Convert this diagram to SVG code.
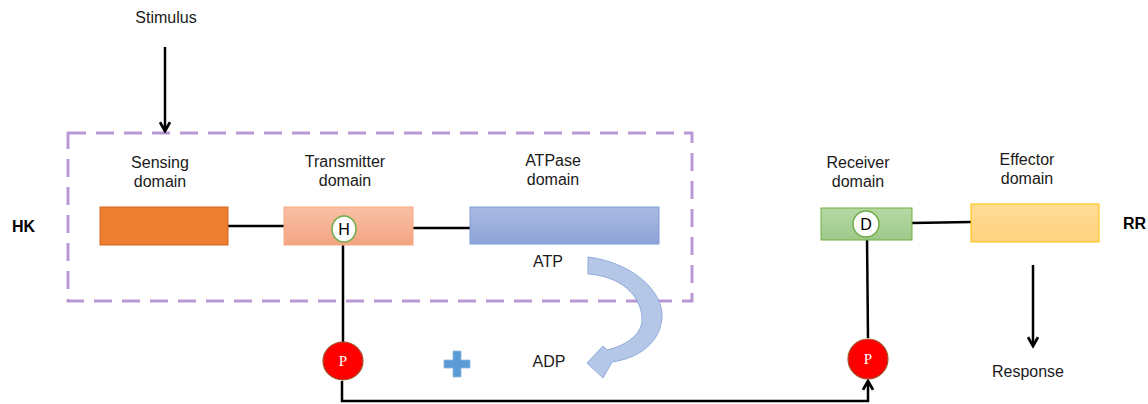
<svg xmlns="http://www.w3.org/2000/svg" width="1148" height="404" viewBox="0 0 1148 404">
  <defs>
    <linearGradient id="gTrans" x1="0" y1="0" x2="0" y2="1">
      <stop offset="0" stop-color="#f8c0a6"/>
      <stop offset="1" stop-color="#f4a482"/>
    </linearGradient>
    <linearGradient id="gAtp" x1="0" y1="0" x2="0" y2="1">
      <stop offset="0" stop-color="#aab9e1"/>
      <stop offset="1" stop-color="#8ea4d8"/>
    </linearGradient>
    <linearGradient id="gRec" x1="0" y1="0" x2="0" y2="1">
      <stop offset="0" stop-color="#b7d8a3"/>
      <stop offset="1" stop-color="#9dc98a"/>
    </linearGradient>
    <linearGradient id="gEff" x1="0" y1="0" x2="0" y2="1">
      <stop offset="0" stop-color="#ffdc96"/>
      <stop offset="1" stop-color="#ffd27e"/>
    </linearGradient>
    <marker id="arrow" viewBox="0 0 10 10" refX="8" refY="5" markerWidth="5" markerHeight="5" orient="auto">
      <path d="M1,1 L8,5 L1,9" fill="none" stroke="#000" stroke-width="2.2"/>
    </marker>
  </defs>
  <style>
    text { font-family: "Liberation Sans", Arial, sans-serif; font-size: 16px; fill: #1a1a1a; }
    .lbl { text-anchor: middle; }
    .bold { font-weight: bold; font-size: 16px; fill: #000; }
    .wire { fill: none; stroke: #000; stroke-width: 2.5; }
    .site { fill: #fff; stroke: #70ad47; stroke-width: 1.5; }
    .site-txt { text-anchor: middle; font-size: 16px; fill: #000; }
    .phos { fill: #ff0000; stroke: #a0522d; stroke-width: 1.2; }
    .phos-txt { font-family: "Liberation Serif", "Times New Roman", serif; font-size: 15px; fill: #fff; text-anchor: middle; }
  </style>

  <!-- histidine kinase boundary -->
  <rect x="68" y="133" width="624" height="168" fill="none" stroke="#b999d3" stroke-width="3" stroke-dasharray="18 10"/>

  <!-- connectors -->
  <g id="connectors">
    <line class="wire" x1="165" y1="47" x2="165" y2="131" marker-end="url(#arrow)"/>
    <line class="wire" x1="228" y1="226" x2="284" y2="226"/>
    <line class="wire" x1="413" y1="228" x2="470" y2="228"/>
    <line class="wire" x1="343" y1="242" x2="343" y2="342"/>
    <polyline class="wire" points="342,381 342,401 868,401 868,381" marker-end="url(#arrow)"/>
    <line class="wire" x1="867" y1="237" x2="868" y2="338"/>
    <line class="wire" x1="912" y1="223" x2="971" y2="222"/>
    <line class="wire" x1="1033" y1="265" x2="1033" y2="346" marker-end="url(#arrow)"/>
  </g>

  <text class="lbl" x="166" y="23">Stimulus</text>
  <text class="bold" x="12" y="232">HK</text>
  <text class="bold" x="1123" y="229">RR</text>

  <g id="sensing">
    <rect x="100" y="207" width="128" height="38" fill="#ed7d31" stroke="#d0661e" stroke-width="1"/>
    <text class="lbl" x="160" y="168">Sensing</text>
    <text class="lbl" x="160" y="187">domain</text>
  </g>

  <g id="transmitter">
    <rect x="284" y="207" width="129" height="38" fill="url(#gTrans)" stroke="#f5a97f" stroke-width="1"/>
    <text class="lbl" x="345" y="167">Transmitter</text>
    <text class="lbl" x="345" y="186">domain</text>
    <ellipse class="site" cx="344" cy="229" rx="12" ry="13"/>
    <text class="site-txt" x="344" y="235">H</text>
  </g>

  <g id="atpase">
    <rect x="470" y="207" width="189" height="37" fill="url(#gAtp)" stroke="#7f9bd6" stroke-width="1"/>
    <text class="lbl" x="553" y="166">ATPase</text>
    <text class="lbl" x="553" y="185">domain</text>
  </g>

  <g id="atp-turnover">
    <text class="lbl" x="548" y="267">ATP</text>
    <path d="M588,257 C630,262 664,290 662,318 C660,342 640,358 612,362 L603,378 L587,363 L603,346 L607,350 C628,345 643,333 642,318 C641,295 620,276 588,274 Z" fill="#b4c7e7" stroke="#8faadc" stroke-width="1"/>
    <text class="lbl" x="549" y="367">ADP</text>
    <path d="M453,351 h8 v9 h9 v8 h-9 v9 h-8 v-9 h-9 v-8 h9 Z" fill="#5b9bd5" stroke="#8fb8e3" stroke-width="0.8"/>
  </g>

  <g id="phospho-hk">
    <ellipse class="phos" cx="343" cy="361" rx="20" ry="19"/>
    <text class="phos-txt" x="343" y="366">P</text>
  </g>

  <g id="receiver">
    <rect x="821" y="208" width="91" height="32" fill="url(#gRec)" stroke="#70ad47" stroke-width="1"/>
    <text class="lbl" x="858" y="168">Receiver</text>
    <text class="lbl" x="858" y="187">domain</text>
    <circle class="site" cx="866" cy="224" r="13"/>
    <text class="site-txt" x="866" y="230">D</text>
  </g>

  <g id="phospho-rr">
    <circle class="phos" cx="868" cy="359" r="20"/>
    <text class="phos-txt" x="868" y="364">P</text>
  </g>

  <g id="effector">
    <rect x="971" y="204" width="128" height="38" fill="url(#gEff)" stroke="#ffc000" stroke-width="1"/>
    <text class="lbl" x="1027" y="165">Effector</text>
    <text class="lbl" x="1027" y="184">domain</text>
  </g>

  <text class="lbl" x="1028" y="377">Response</text>
</svg>
